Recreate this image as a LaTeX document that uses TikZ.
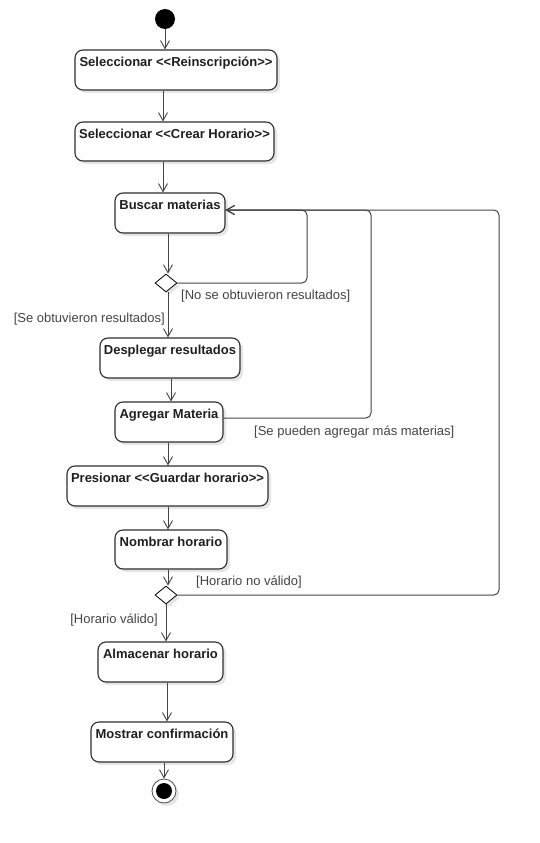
\documentclass[tikz,border=0pt]{standalone}
\usepackage{fontspec}
\setmainfont{Liberation Sans}
\usetikzlibrary{arrows.meta,shapes.geometric,shadows}
\definecolor{edge}{HTML}{444444}
\definecolor{frame}{HTML}{2E2E2E}
\definecolor{guard}{HTML}{444444}
% guillemet-free double angle brackets
\newcommand{\dlt}{<\kern0pt<}
\newcommand{\dgt}{>\kern0pt>}
\tikzset{
  softshadow/.style={drop shadow={shadow xshift=3pt,shadow yshift=-3pt,fill=black,opacity=0.10}},
  actbox/.style={draw=frame,line width=1.1pt,rounded corners=8pt,fill=white,softshadow,inner sep=0pt},
  acttext/.style={font=\bfseries\fontsize{13}{15}\selectfont,text=black!88,anchor=base,inner sep=0pt},
  decision/.style={draw=black,line width=0.8pt,diamond,fill=white,inner sep=0pt,minimum width=22pt,minimum height=18pt,softshadow},
  flow/.style={draw=edge,line width=1pt,rounded corners=5pt,-{Straight Barb[length=8pt,width=9pt,line width=0.9pt]}},
  guardtxt/.style={font=\fontsize{13}{15}\selectfont,text=guard,inner sep=0pt},
  startdot/.style={circle,fill=black,minimum size=20pt,inner sep=0pt},
}
\begin{document}
\begin{tikzpicture}[x=1pt,y=-1pt]
\useasboundingbox[fill=white] (0,0) rectangle (540,843);

% start node
\node[startdot] (s) at (165,19) {};

% action boxes, each with its caption set near the top edge
\node[actbox,minimum width=202pt,minimum height=40pt] (b1) at (176,70) {};
\node[acttext] (t1) at ([yshift=-17pt]b1.north) {Seleccionar \dlt Reinscripción\dgt};
\node[actbox,minimum width=199pt,minimum height=39pt] (b2) at (174.5,141.5) {};
\node[acttext] (t2) at ([yshift=-17pt]b2.north) {Seleccionar \dlt Crear Horario\dgt};
\node[actbox,minimum width=110pt,minimum height=40pt] (b3) at (170,213) {};
\node[acttext] (t3) at ([yshift=-17.5pt]b3.north) {Buscar materias};
\node[decision] (d1) at (166,283) {};
\node[actbox,minimum width=140pt,minimum height=40pt] (b4) at (170,358) {};
\node[acttext] (t4) at ([yshift=-17.5pt]b4.north) {Desplegar resultados};
\node[actbox,minimum width=108pt,minimum height=40pt] (b5) at (169,422) {};
\node[acttext] (t5) at ([yshift=-17.5pt]b5.north) {Agregar Materia};
\node[actbox,minimum width=201pt,minimum height=40pt] (b6) at (167.5,486) {};
\node[acttext] (t6) at ([yshift=-17.5pt]b6.north) {Presionar \dlt Guardar horario\dgt};
\node[actbox,minimum width=112pt,minimum height=39pt] (b7) at (171,549.5) {};
\node[acttext] (t7) at ([yshift=-17.5pt]b7.north) {Nombrar horario};
\node[decision] (d2) at (166,595) {};
\node[actbox,minimum width=125pt,minimum height=40pt] (b8) at (160.5,662) {};
\node[acttext] (t8) at ([yshift=-17.5pt]b8.north) {Almacenar horario};
\node[actbox,minimum width=142pt,minimum height=40pt] (b9) at (162,742) {};
\node[acttext] (t9) at ([yshift=-17.5pt]b9.north) {Mostrar confirmación};

% final node
\node[circle,draw=black!70,line width=0.8pt,fill=white,minimum size=24pt,inner sep=0pt,softshadow] (f) at (164,791) {};
\node[circle,fill=black,minimum size=16pt,inner sep=0pt] (fi) at (f.center) {};

% main flow
\draw[flow] (s) -- (b1.north -| s);
\draw[flow] ([xshift=-13pt]b1.south) -- ([xshift=-11.5pt]b2.north);
\draw[flow] ([xshift=-11.5pt]b2.south) -- ([xshift=-7pt]b3.north);
\draw[flow] ([xshift=-2pt]b3.south) -- ([xshift=2pt]d1.north);
\draw[flow] ([xshift=2pt]d1.south) -- ([xshift=-2pt]b4.north);
\draw[flow] ([xshift=1pt]b4.south) -- ([xshift=2pt]b5.north);
\draw[flow] ([xshift=-1pt]b5.south) -- ([xshift=0.5pt]b6.north);
\draw[flow] ([xshift=0.5pt]b6.south) -- ([xshift=-3pt]b7.north);
\draw[flow] ([xshift=-3pt]b7.south) -- ([xshift=2pt]d2.north);
\draw[flow] (d2.south) -- ([xshift=5.5pt]b8.north);
\draw[flow] ([xshift=6.5pt]b8.south) -- ([xshift=5pt]b9.north);
\draw[flow] ([xshift=2pt]b9.south) -- (f.north);

% loops back to the search step
\draw[flow] (d1.east) -- (307,283) -- (307,210) -- ([yshift=3pt]b3.east);
\draw[flow] ([yshift=4pt]b5.east) -- (371,418) -- (371,210) -- ([yshift=3pt]b3.east);
\draw[flow] (d2.east) -- (499,595) -- (499,210) -- ([yshift=3pt]b3.east);

% guard labels
\node[guardtxt,anchor=west] (g1) at (181,296) {[No se obtuvieron resultados]};
\node[guardtxt,anchor=east] (g2) at (165,319) {[Se obtuvieron resultados]};
\node[guardtxt,anchor=west] (g3) at (254,432) {[Se pueden agregar más materias]};
\node[guardtxt,anchor=west] (g4) at (196,582) {[Horario no válido]};
\node[guardtxt,anchor=east] (g5) at (158,620) {[Horario válido]};
\end{tikzpicture}
\end{document}
